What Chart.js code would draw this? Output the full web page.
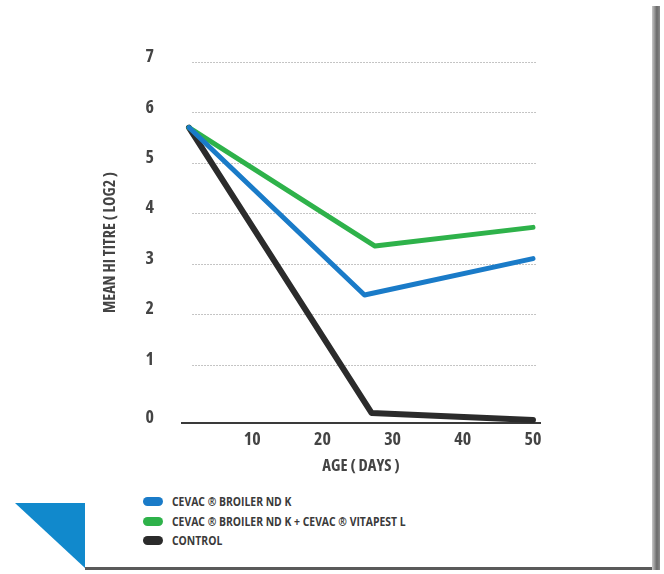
<!DOCTYPE html>
<html lang="en">
<head>
  <meta charset="UTF-8" />
  <title>Mean HI Titre by Age</title>
  <style>
    body {
      margin: 0;
      background: #fff;
      font-family: "Open Sans", Roboto, sans-serif;
    }
    .page {
      position: relative;
      width: 664px;
      height: 574px;
      overflow: hidden;
      background: #fff;
    }
    #chart {
      position: absolute;
      left: 0;
      top: 0;
    }
    .legend {
      position: absolute;
      left: 143px;
      top: 492px;
    }
    .legend-item {
      display: flex;
      align-items: center;
      height: 19.5px;
      color: #3a3a3a;
    }
    .legend-swatch {
      width: 20px;
      height: 9px;
      border-radius: 5px;
      margin-right: 9px;
    }
    .legend-text {
      display: inline-block;
      font-size: 12.5px;
      font-weight: bold;
      white-space: nowrap;
      transform: scaleX(0.83);
      transform-origin: left center;
    }
    .corner {
      position: absolute;
      left: 15px;
      top: 503px;
      width: 70px;
      height: 65px;
      background: #1189cc;
      clip-path: polygon(0 0, 100% 0, 100% 100%);
    }
    .edge-bottom {
      position: absolute;
      left: 85px;
      top: 567px;
      width: 575px;
      height: 3px;
      background: #5a5a5a;
    }
    .edge-right {
      position: absolute;
      left: 652px;
      top: 6px;
      width: 8px;
      height: 564px;
      background: linear-gradient(to right, #c8c8c8, #6a6a6a 60%, #8a8a8a);
    }
  </style>
  <script src="https://cdn.jsdelivr.net/npm/chart.js"></script>
</head>
<body>
  <div class="page">
    <canvas id="chart" width="664" height="490"></canvas>
    <div class="legend" id="legend"></div>
    <div class="corner"></div>
    <div class="edge-bottom"></div>
    <div class="edge-right"></div>
  </div>

  <script>
    // age in days and mean HI titre (log2) for each group
    const ageNdk = [1, 26, 50];
    const titreNdk = [5.7, 2.38, 3.1];

    const ageNdkVita = [1, 27.5, 50];
    const titreNdkVita = [5.7, 3.35, 3.72];

    const ageControl = [1, 27, 50];
    const titreControl = [5.7, 0.04, -0.1];

    const ageTicks = [10, 20, 30, 40, 50];
    const titreTicks = [0, 1, 2, 3, 4, 5, 6, 7];

    const seriesNames = [
      'CEVAC \u00AE BROILER ND K',
      'CEVAC \u00AE BROILER ND K + CEVAC \u00AE VITAPEST L',
      'CONTROL'
    ];

    const toPoints = (xs, ys) => xs.map((x, i) => ({ x: x, y: ys[i] }));

    const fontFamily = '"Open Sans", Roboto, sans-serif';
    // narrow bold face for the axis text
    const axisWeight = 'bold condensed';

    const yMin = -0.16;

    // dotted horizontal guides, a bit shorter than the plot area
    const dottedGrid = {
      id: 'dottedGrid',
      beforeDatasetsDraw(chart) {
        const { ctx, scales } = chart;
        const x0 = scales.x.getPixelForValue(1.5);
        const x1 = scales.x.getPixelForValue(50.5);
        ctx.save();
        ctx.strokeStyle = '#8a8a8a';
        ctx.lineWidth = 1;
        ctx.setLineDash([1, 2]);
        titreTicks.filter(v => v > 0).forEach(v => {
          const py = Math.round(scales.y.getPixelForValue(v)) + 0.5;
          ctx.beginPath();
          ctx.moveTo(x0, py);
          ctx.lineTo(x1, py);
          ctx.stroke();
        });
        ctx.restore();
      }
    };

    const colors = ['#1a7bc8', '#2eb24a', '#2b2b2b'];

    const chart = new Chart(document.getElementById('chart'), {
      type: 'line',
      data: {
        datasets: [
          { label: seriesNames[0], data: toPoints(ageNdk, titreNdk), borderColor: colors[0], backgroundColor: colors[0] },
          { label: seriesNames[1], data: toPoints(ageNdkVita, titreNdkVita), borderColor: colors[1], backgroundColor: colors[1] },
          { label: seriesNames[2], data: toPoints(ageControl, titreControl), borderColor: colors[2], backgroundColor: colors[2], borderWidth: 6 }
        ]
      },
      options: {
        responsive: false,
        animation: false,
        layout: { padding: { left: 100, right: 124, top: 62, bottom: 7 } },
        elements: {
          line: { borderWidth: 5, tension: 0, borderCapStyle: 'round', borderJoinStyle: 'round' },
          point: { radius: 0 }
        },
        plugins: {
          legend: { display: false },
          tooltip: { enabled: false }
        },
        scales: {
          x: {
            type: 'linear',
            min: 0,
            max: 51,
            afterBuildTicks: s => { s.ticks = ageTicks.map(v => ({ value: v })); },
            afterFit: s => { s.height = 60; },
            grid: { display: false, drawTicks: false },
            border: { display: true, color: '#3a3a3a', width: 2 },
            ticks: {
              color: '#444',
              padding: 6,
              maxRotation: 0,
              font: { family: fontFamily, size: 18, weight: axisWeight }
            },
            title: {
              display: true,
              text: 'AGE ( DAYS )',
              color: '#444',
              padding: { top: 0, bottom: 7 },
              font: { family: fontFamily, size: 16.5, weight: axisWeight }
            }
          },
          y: {
            min: yMin,
            max: 7,
            // the 0 label sits on the axis line
            afterBuildTicks: s => {
              s.ticks = titreTicks.map(v => ({ value: v === 0 ? yMin : v }));
            },
            afterFit: s => { s.width = 82; },
            grid: { display: false, drawTicks: false },
            border: { display: false },
            ticks: {
              color: '#444',
              padding: 28,
              labelOffset: -5,
              callback: v => Math.max(0, Math.round(v)),
              font: { family: fontFamily, size: 18, weight: axisWeight }
            },
            title: {
              display: true,
              text: 'MEAN HI TITRE ( LOG2 )',
              color: '#444',
              padding: { top: 1, bottom: 0 },
              font: { family: fontFamily, size: 16, weight: axisWeight }
            }
          }
        }
      },
      plugins: [dottedGrid]
    });

    // legend list under the chart, built from the datasets
    const legendBox = document.getElementById('legend');
    chart.data.datasets.forEach(ds => {
      const row = document.createElement('div');
      row.className = 'legend-item';
      const sw = document.createElement('span');
      sw.className = 'legend-swatch';
      sw.style.background = ds.borderColor;
      const txt = document.createElement('span');
      txt.className = 'legend-text';
      txt.textContent = ds.label;
      row.appendChild(sw);
      row.appendChild(txt);
      legendBox.appendChild(row);
    });
  </script>
</body>
</html>
